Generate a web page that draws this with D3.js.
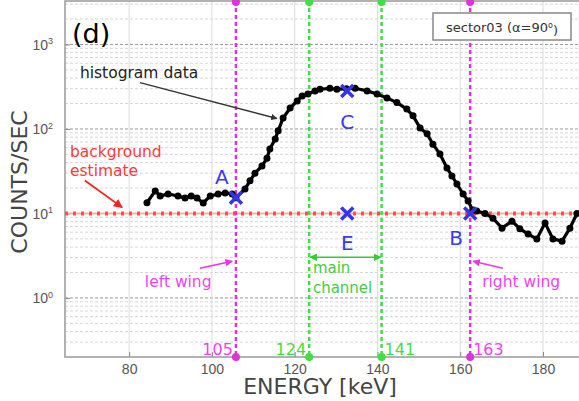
<!DOCTYPE html>
<html>
<head>
<meta charset="utf-8">
<script src="https://cdn.jsdelivr.net/npm/d3@7"></script>
<style>
  body { margin: 0; background: #fff; }
  svg { font-family: "DejaVu Sans", sans-serif; }
</style>
</head>
<body>
<div class="chart"></div>
<script>
// histogram data
var energy = [84.3, 86.3, 87.5, 89.4, 91.8, 93.5, 95, 96.4, 97.9, 99.6, 101.5, 103.2, 104.9, 105.8,
  108, 109.2, 110.4, 112.1, 113.3, 114, 115.3, 116, 117.2, 118.9, 120.6, 121.8, 123.2, 124.9,
  126.1, 128.5, 130.2, 132.5, 134.6, 137.5, 139.9, 142.3, 144.7, 147.1, 148.6, 150.3, 152,
  153.4, 155.1, 156.8, 158, 159.2, 160.7, 161.9, 163, 164, 166, 167.9, 170.1, 172.5, 174.4,
  176.4, 178.5, 180.5, 182.4, 184.6, 186.5, 188.2];
var counts = [13.4, 18.5, 16.1, 17, 16.1, 15.2, 16.1, 15.2, 13.3, 16.1, 17, 17.5, 17, 15.3,
  19.5, 24.3, 30, 36.5, 45, 58, 76, 95, 135, 177, 215, 246, 260, 282,
  295, 303, 295, 300, 303, 282, 260, 233, 205, 172, 143, 103, 87.5,
  66, 50.6, 34.5, 27.8, 22.3, 17, 14, 11, 10.7, 10, 8.8, 6.7, 8.1, 6.6,
  5.7, 5, 7.7, 5, 4.7, 6.7, 10];

var backgroundLevel = 10;
var xTicks = [80, 100, 120, 140, 160, 180];
var yDecades = [0, 1, 2, 3];

// wing / channel boundaries (position, label)
var wingPos = [105.8, 162.4];
var wingLabels = ["105", "163"];
var channelPos = [123.5, 141];
var channelLabels = ["124", "141"];

// points A, B, C, E
var pointNames = ["A", "B", "C", "E"];
var pointE = [105.8, 162.4, 132.7, 132.7];
var pointC = [15.3, 10, 282, 10];

var W = 579, H = 401;
var plot = {left: 65, right: 579, top: 1, bottom: 357};

var x = d3.scaleLinear().domain([64.5, 188.7]).range([plot.left, plot.right]);
var y = d3.scaleLog().domain([0.2, 3270]).range([plot.bottom, plot.top]);

var svg = d3.select(".chart").append("svg")
  .attr("width", W).attr("height", H);

var defs = svg.append("defs");
function arrowHead(id, color) {
  defs.append("marker").attr("id", id)
    .attr("viewBox", "0 0 10 10").attr("refX", 9).attr("refY", 5)
    .attr("markerWidth", 5).attr("markerHeight", 5).attr("orient", "auto-start-reverse")
    .append("path").attr("d", "M0,0 L10,5 L0,10 z").attr("fill", color);
}
arrowHead("ar-black", "#333");
arrowHead("ar-red", "#ff2020");
arrowHead("ar-mag", "#ee33ee");
arrowHead("ar-green", "#33cc33");

svg.append("rect").attr("x", plot.left).attr("y", plot.top)
  .attr("width", plot.right - plot.left).attr("height", plot.bottom - plot.top)
  .attr("fill", "#fff");

// grid
var grid = svg.append("g");
var minors = [];
for (var d = -1; d <= 3; d++) {
  for (var m = 2; m <= 9; m++) {
    var v = m * Math.pow(10, d);
    if (v > y.domain()[0] && v < y.domain()[1]) minors.push(v);
  }
}
grid.selectAll(".minor").data(minors).enter().append("line")
  .attr("x1", plot.left).attr("x2", plot.right)
  .attr("y1", function(d) { return y(d); }).attr("y2", function(d) { return y(d); })
  .attr("stroke", "#d6d6d6").attr("stroke-width", 1).attr("stroke-dasharray", "3,2");
grid.selectAll(".major").data(yDecades).enter().append("line")
  .attr("x1", plot.left).attr("x2", plot.right)
  .attr("y1", function(d) { return y(Math.pow(10, d)); }).attr("y2", function(d) { return y(Math.pow(10, d)); })
  .attr("stroke", "#9a9a9a").attr("stroke-width", 1).attr("stroke-dasharray", "3,2");
grid.selectAll(".vx").data(xTicks).enter().append("line")
  .attr("x1", function(d) { return x(d); }).attr("x2", function(d) { return x(d); })
  .attr("y1", plot.top).attr("y2", plot.bottom)
  .attr("stroke", "#dcdcdc").attr("stroke-width", 1);

// axes
var xAxis = d3.axisBottom(x).tickValues(xTicks).tickSize(-5).tickPadding(7).tickFormat(d3.format("d"));
var gx = svg.append("g").attr("transform", "translate(0," + plot.bottom + ")").call(xAxis);
gx.select(".domain").remove();
gx.selectAll(".tick line").attr("stroke", "#888");
gx.selectAll("text").attr("fill", "#555").attr("font-size", 14);

var yAxis = d3.axisLeft(y).tickValues(yDecades.map(function(d) { return Math.pow(10, d); }))
  .tickSize(-5).tickFormat("");
var gy = svg.append("g").attr("transform", "translate(" + plot.left + ",0)").call(yAxis);
gy.select(".domain").remove();
gy.selectAll(".tick line").attr("stroke", "#888");
var yl = gy.selectAll(".tick").append("text")
  .attr("x", -12).attr("dy", "0.35em").attr("text-anchor", "end")
  .attr("fill", "#555").attr("font-size", 14);
yl.append("tspan").text("10");
yl.append("tspan").attr("dy", "-0.6em").attr("font-size", 9)
  .text(function(d) { return Math.round(Math.log10(d)); });

svg.append("rect").attr("x", plot.left).attr("y", plot.top)
  .attr("width", plot.right - plot.left + 2).attr("height", plot.bottom - plot.top)
  .attr("fill", "none").attr("stroke", "#999").attr("stroke-width", 1.5);

// axis titles
svg.append("text").attr("x", 320).attr("y", 394).attr("text-anchor", "middle")
  .attr("font-size", 22).attr("fill", "#444").text("ENERGY [keV]");
svg.append("text").attr("transform", "translate(27,182) rotate(-90)").attr("text-anchor", "middle")
  .attr("font-size", 22).attr("fill", "#444").text("COUNTS/SEC");

// background estimate line
svg.append("line").attr("x1", plot.left).attr("x2", plot.right)
  .attr("y1", y(backgroundLevel)).attr("y2", y(backgroundLevel))
  .attr("stroke", "#ffb0b0").attr("stroke-width", 2);
svg.append("line").attr("x1", plot.left).attr("x2", plot.right)
  .attr("y1", y(backgroundLevel)).attr("y2", y(backgroundLevel))
  .attr("stroke", "#ff5050").attr("stroke-width", 4).attr("stroke-dasharray", "3,5");

// vertical boundary lines
function vline(e, color) {
  svg.append("line").attr("x1", x(e)).attr("x2", x(e))
    .attr("y1", plot.top).attr("y2", plot.bottom)
    .attr("stroke", color).attr("stroke-width", 2.5).attr("stroke-dasharray", "4,3");
  [plot.top + 1, plot.bottom].forEach(function(yy) {
    svg.append("circle").attr("cx", x(e)).attr("cy", yy).attr("r", 4).attr("fill", color);
  });
}
wingPos.forEach(function(e) { vline(e, "#dd33dd"); });
channelPos.forEach(function(e) { vline(e, "#44dd44"); });

var lowY = y(0.211);
svg.append("text").attr("x", x(wingPos[0]) - 3).attr("y", lowY).attr("text-anchor", "end")
  .attr("font-size", 16).attr("fill", "#ee44ee").text(wingLabels[0]);
svg.append("text").attr("x", x(wingPos[1]) + 3).attr("y", lowY)
  .attr("font-size", 16).attr("fill", "#ee44ee").text(wingLabels[1]);
svg.append("text").attr("x", x(channelPos[0]) - 3).attr("y", lowY).attr("text-anchor", "end")
  .attr("font-size", 16).attr("fill", "#44dd44").text(channelLabels[0]);
svg.append("text").attr("x", x(channelPos[1]) + 3).attr("y", lowY)
  .attr("font-size", 16).attr("fill", "#44dd44").text(channelLabels[1]);

// histogram curve
var pts = energy.map(function(e, i) { return [e, counts[i]]; });
var line = d3.line().x(function(d) { return x(d[0]); }).y(function(d) { return y(d[1]); });
svg.append("path").datum(pts).attr("d", line)
  .attr("fill", "none").attr("stroke", "#000").attr("stroke-width", 3.2);
svg.selectAll(".pt").data(pts).enter().append("circle")
  .attr("cx", function(d) { return x(d[0]); }).attr("cy", function(d) { return y(d[1]); })
  .attr("r", 3.5).attr("fill", "#000");

// A B C E markers
var labelOff = {A: [-14, -21], B: [-14, 25], C: [0, 31], E: [0, 30]};
pointNames.forEach(function(n, i) {
  var cx = x(pointE[i]), cy = y(pointC[i]), s = 6;
  svg.append("path").attr("d", "M" + (cx - s) + "," + (cy - s) + "L" + (cx + s) + "," + (cy + s) +
      "M" + (cx - s) + "," + (cy + s) + "L" + (cx + s) + "," + (cy - s))
    .attr("stroke", "#3535e8").attr("stroke-width", 3.5);
  svg.append("text").attr("x", cx + labelOff[n][0]).attr("y", cy + labelOff[n][1])
    .attr("dy", "0.35em").attr("text-anchor", "middle")
    .attr("font-size", 20).attr("fill", "#3a3ae8").text(n);
});

// annotations
svg.append("text").attr("x", x(66.2)).attr("y", y(1047)).attr("font-size", 27).attr("fill", "#000").text("(d)");

svg.append("text").attr("x", x(68.1)).attr("y", y(405)).attr("font-size", 15.5).attr("fill", "#222").text("histogram data");
svg.append("line").attr("x1", x(82.6)).attr("y1", y(353)).attr("x2", x(115.7)).attr("y2", y(133))
  .attr("stroke", "#333").attr("stroke-width", 1.3).attr("marker-end", "url(#ar-black)");

svg.append("text").attr("x", x(65.7)).attr("y", y(46)).attr("font-size", 15.5).attr("fill", "#ff3a3a").text("background");
svg.append("text").attr("x", x(65.7)).attr("y", y(28)).attr("font-size", 15.5).attr("fill", "#ff3a3a").text("estimate");
svg.append("line").attr("x1", x(69.3)).attr("y1", y(24.6)).attr("x2", x(78.3)).attr("y2", y(11.8))
  .attr("stroke", "#ff2020").attr("stroke-width", 1.8).attr("marker-end", "url(#ar-red)");

svg.append("text").attr("x", x(83.8)).attr("y", y(1.34)).attr("font-size", 15.5).attr("fill", "#ee44ee").text("left wing");
svg.append("line").attr("x1", x(97.1)).attr("y1", y(2.25)).attr("x2", x(104.9)).attr("y2", y(2.72))
  .attr("stroke", "#ee33ee").attr("stroke-width", 1.5).attr("marker-end", "url(#ar-mag)");
svg.append("text").attr("x", x(165.3)).attr("y", y(1.34)).attr("font-size", 15.5).attr("fill", "#ee44ee").text("right wing");
svg.append("line").attr("x1", x(170.3)).attr("y1", y(2.25)).attr("x2", x(163.1)).attr("y2", y(2.72))
  .attr("stroke", "#ee33ee").attr("stroke-width", 1.5).attr("marker-end", "url(#ar-mag)");

svg.append("line").attr("x1", x(channelPos[0]) + 1).attr("y1", y(3.03)).attr("x2", x(channelPos[1]) - 1).attr("y2", y(3.03))
  .attr("stroke", "#33cc33").attr("stroke-width", 1.5)
  .attr("marker-start", "url(#ar-green)").attr("marker-end", "url(#ar-green)");
svg.append("text").attr("x", x(124.4)).attr("y", y(1.96)).attr("font-size", 15).attr("fill", "#44cc44").text("main");
svg.append("text").attr("x", x(124.4)).attr("y", y(1.14)).attr("font-size", 15).attr("fill", "#44cc44").text("channel");

// sector legend box
var lg = svg.append("g");
lg.append("rect").attr("x", 433).attr("y", 13).attr("width", 138).attr("height", 27)
  .attr("fill", "#fff").attr("stroke", "#888").attr("stroke-width", 1.5);
var lt = lg.append("text").attr("x", 502).attr("y", 32).attr("text-anchor", "middle")
  .attr("font-size", 13).attr("fill", "#333");
lt.append("tspan").text("sector03 (\u03b1=90");
lt.append("tspan").attr("dy", "-0.5em").attr("font-size", 8).text("o");
lt.append("tspan").attr("dy", "0.5em").text(")");
</script>
</body>
</html>
